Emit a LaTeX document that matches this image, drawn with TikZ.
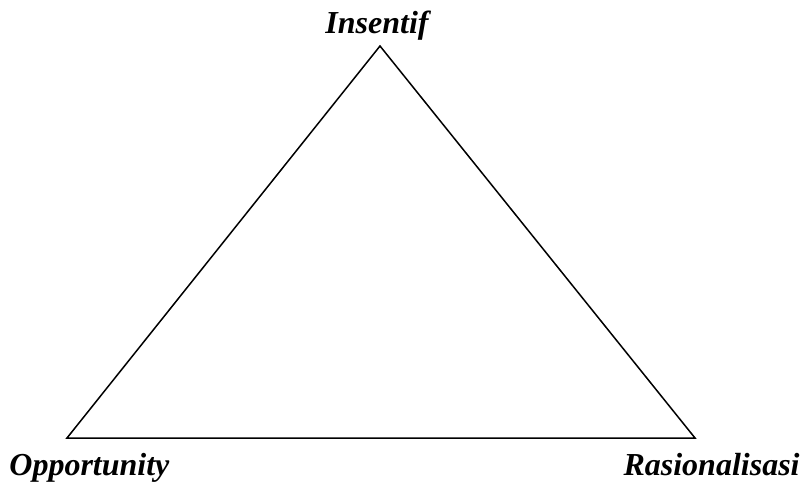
\documentclass[tikz,border=0pt]{standalone}
\usepackage{fontspec}
\setmainfont{Liberation Serif}
\usetikzlibrary{positioning}
\begin{document}
\begin{tikzpicture}[x=1pt,y=-1pt,thick,label/.style={font=\fontsize{32}{32}\selectfont\bfseries\itshape, inner sep=0pt}]
        \useasboundingbox (0,0) rectangle (808,484);
        \coordinate (apex) at (380,46);
        \coordinate (left) at (67,438);
        \coordinate (right) at (695,438);

        \draw[line width=1.5pt, line join=miter] (apex) -- (left) -- (right) -- cycle;

        \node (insentif) [label, anchor=base] at (377,34) {Insentif};
        \node (opportunity) [label, anchor=base west] at (9,475) {Opportunity};
        \node (rasionalisasi) [label, anchor=base east] at (800,475) {Rasionalisasi};
    \end{tikzpicture}
\end{document}
